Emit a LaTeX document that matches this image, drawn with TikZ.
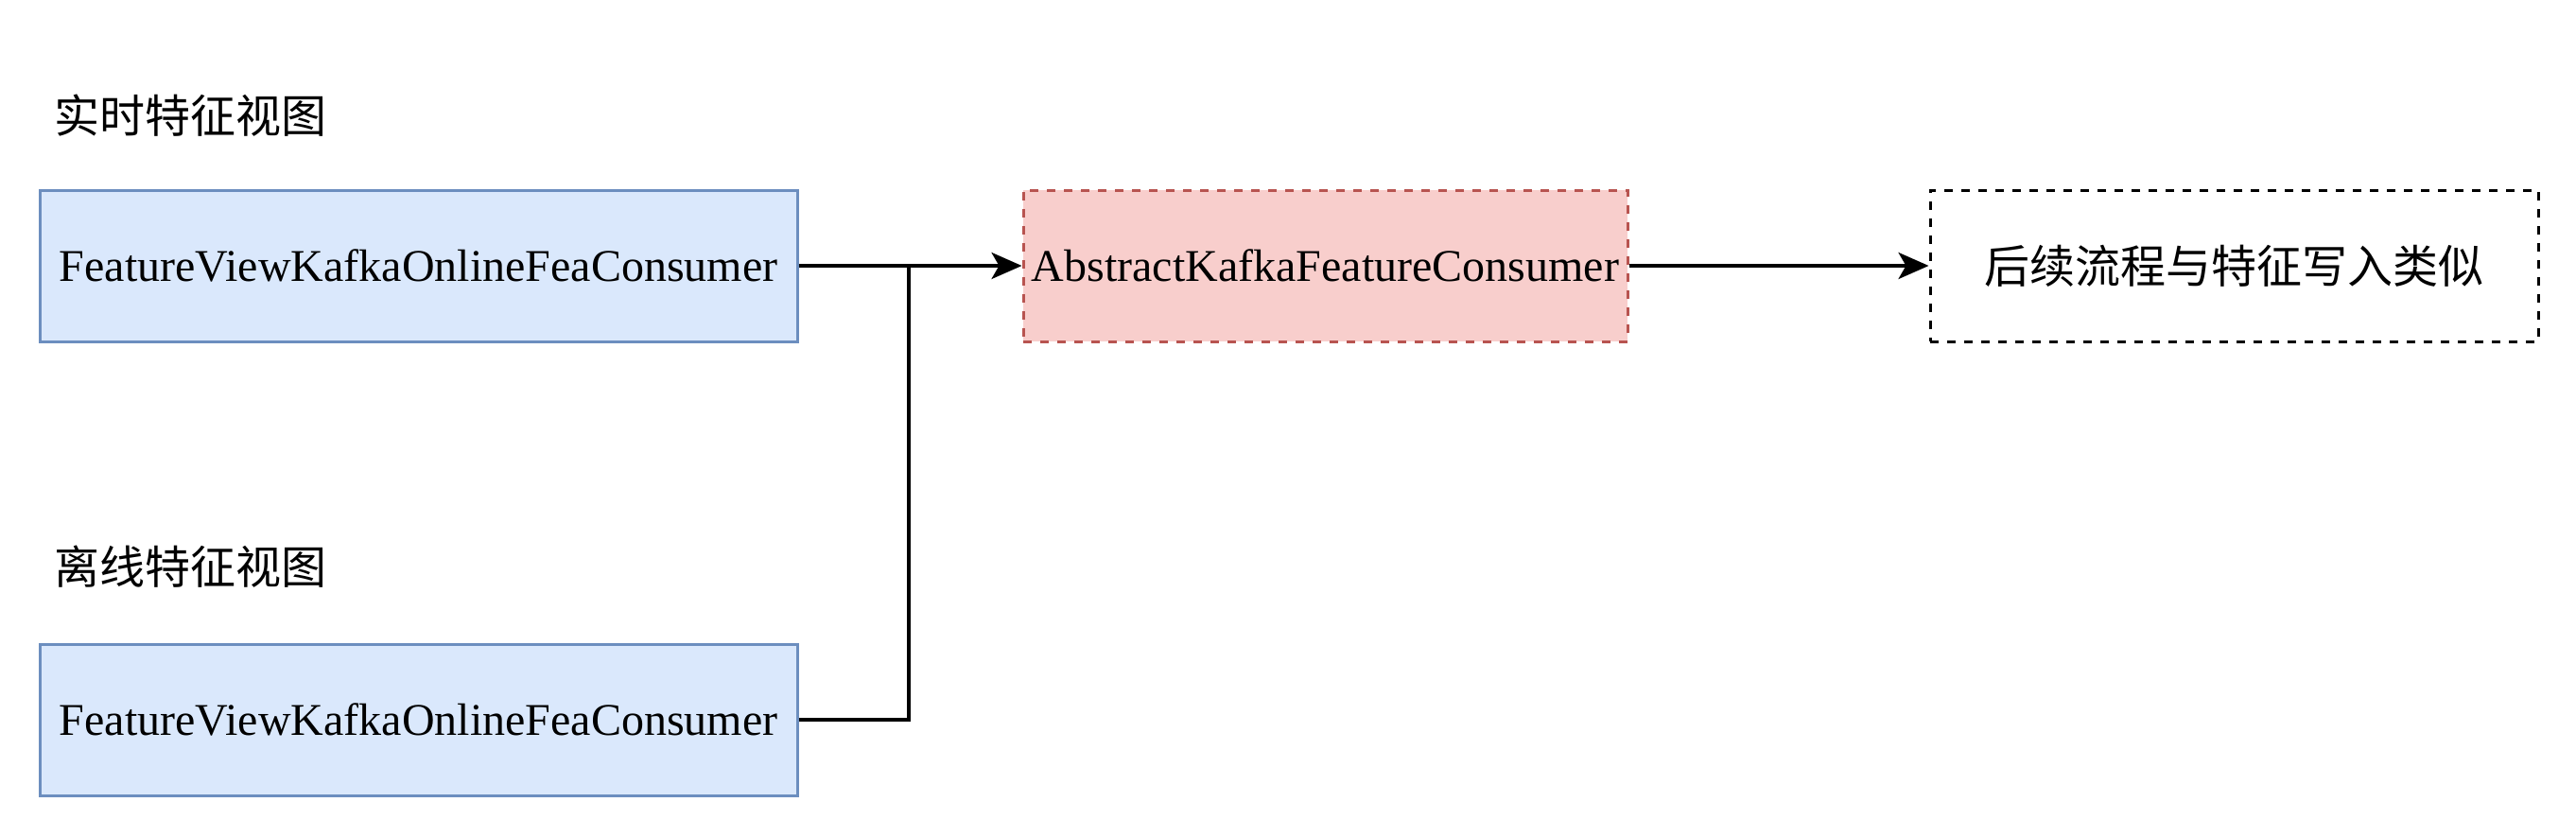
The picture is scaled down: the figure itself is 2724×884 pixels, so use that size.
\documentclass[tikz,border=0pt]{standalone}
\usepackage{fontspec}
\setmainfont{Liberation Serif}
\newfontfamily\cjk{Noto Sans CJK SC}
\usepackage{tikz}
\usetikzlibrary{arrows.meta}

\definecolor{viewfill}{HTML}{DAE8FC}
\definecolor{viewdraw}{HTML}{6C8EBF}
\definecolor{absfill}{HTML}{F8CECC}
\definecolor{absdraw}{HTML}{B85450}

\tikzset{
  viewbox/.style={draw=viewdraw, fill=viewfill, line width=3pt, minimum width=801pt, minimum height=160pt, inner sep=0pt, font=\fontsize{48}{58}\selectfont},
  absbox/.style={draw=absdraw, fill=absfill, line width=3pt, dash pattern=on 9pt off 9pt, minimum width=639pt, minimum height=160pt, inner sep=0pt, font=\fontsize{48}{58}\selectfont},
  nextbox/.style={draw=black, line width=3pt, dash pattern=on 9pt off 9pt, minimum width=643pt, minimum height=160pt, inner sep=0pt, font=\cjk\fontsize{48}{58}\selectfont},
  grouplabel/.style={anchor=west, inner sep=0pt, font=\cjk\fontsize{48}{58}\selectfont},
  flow/.style={draw=black, line width=3.5pt, -{Stealth[length=32pt,width=28pt,inset=8pt]}}
}

\begin{document}
\begin{tikzpicture}[x=1pt, y=-1pt]
  \useasboundingbox (0,0) rectangle (2724,884);

  % Group labels
  \node[grouplabel] (rtlabel) at (57,122) {实时特征视图};
  \node[grouplabel] (oflabel) at (57,599) {离线特征视图};

  % Boxes
  \node[viewbox] (rtview) at (442.5,281) {FeatureViewKafkaOnlineFeaConsumer};
  \node[viewbox] (ofview) at (442.5,761) {FeatureViewKafkaOnlineFeaConsumer};
  \node[absbox] (abscons) at (1401.5,281) {AbstractKafkaFeatureConsumer};
  \node[nextbox] (next) at (2362.5,281) {后续流程与特征写入类似};

  % Connectors
  \coordinate (join) at (961,281);
  \draw[flow] (rtview.east) -- (abscons.west);
  \draw[draw=black, line width=3.5pt] (ofview.east) -| (join);
  \draw[flow] (abscons.east) -- (next.west);
\end{tikzpicture}
\end{document}
